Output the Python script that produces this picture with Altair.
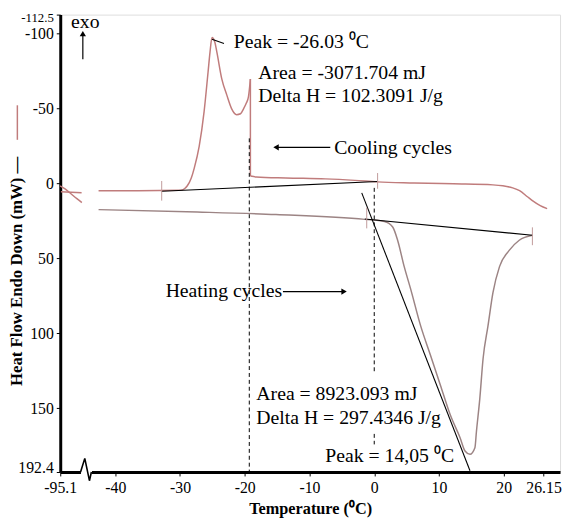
import altair as alt
import pandas as pd

FONT = "Liberation Serif"
COOL_COLOR = "#c07c7c"
HEAT_COLOR = "#9c8484"

# ---------------- data ----------------
# cooling curve, rising part (after the axis break)
cool1_x = [-42.58, -36.49, -29.94, -29.31, -28.87, -28.26, -27.80, -27.04, -26.28, -25.67,
           -25.37, -25.06, -24.61, -24.30, -23.54, -22.78, -22.02, -21.26, -20.65, -20.19,
           -19.74, -19.43, -19.13]
cool1_y = [4.9, 4.9, 4.6, 3.6, 1.6, -3.6, -10.2, -24.7, -47.8, -74.1,
           -87.3, -97.2, -93.9, -87.3, -69.5, -59.0, -49.7, -45.8, -46.4, -49.7,
           -53.7, -57.6, -69.5]
# cooling curve after the sudden drop
cool2_x = [-19.13, -18.21, -13.64, -7.55, -2.98, 0.52, 6.15, 12.24, 18.33, 19.86,
           21.38, 22.45, 23.66, 24.43, 25.64, 26.71]
cool2_y = [-4.9, -4.3, -3.6, -3.0, -2.0, -1.0, -0.3, 0.3, 1.0, 1.6,
           3.0, 4.9, 8.9, 11.5, 14.8, 16.8]
# vertical drop at the end of the exotherm
drop_x = [-19.13]
drop_y1 = [-69.5]
drop_y2 = [-4.9]
# short pieces left of the axis break
left_a_x = [-48.4, -45.2]
left_a_y = [5.6, 6.3]
left_b_x = [-48.52, -47.76, -46.85, -45.93, -45.17]
left_b_y = [1.6, 3.6, 6.9, 10.2, 12.8]
# heating curve
heat_x = [-42.58, -27.35, -15.17, -1.46, 1.58, 2.85, 3.61, 4.63, 5.65, 7.17, 8.70,
          10.22, 11.74, 13.26, 14.02, 14.79, 15.55, 15.79, 16.31, 16.81, 17.57, 18.33,
          19.35, 20.88, 22.40, 24.43]
heat_y = [17.5, 19.1, 20.8, 24.0, 25.4, 29.1, 37.9, 55.5, 70.8, 95.0, 114.7,
          134.5, 154.3, 169.6, 178.4, 180.6, 176.2, 165.2, 143.3, 116.9, 95.0, 73.0,
          55.5, 44.5, 37.9, 34.6]
# black construction lines (baselines, onset tangent, peak pointer)
cool_base_x = [-32.83, 0.52]
cool_base_y = [5.3, -1.3]
heat_base_x = [-1.46, 24.43]
heat_base_y = [23.7, 34.6]
tangent_x = [-1.93, 14.79]
tangent_y = [6.3, 191.6]
pointer_x = [-25.06, -23.21]
pointer_y = [-96.0, -93.2]
# small vertical integration markers
marker_x = [-32.83, 0.52, -1.16, 24.43]
marker_y1 = [-1.6, -6.9, 16.1, 29.3]
marker_y2 = [11.5, 3.6, 30.0, 41.2]
# dashed guide lines
dash_x = [-19.3, 0, 0]
dash_y1 = [-30, 3, 167]
dash_y2 = [192.4, 125.5, 174]
# annotation texts
ann_text = ["exo", "Peak = -26.03 \u2070C", "Area = -3071.704 mJ", "Delta H = 102.3091 J/g",
            "Cooling cycles", "Heating cycles", "Area = 8923.093 mJ",
            "Delta H = 297.4346 J/g", "Peak = 14,05 \u2070C"]
ann_x = [-46.83, -21.71, -17.91, -17.91, -6.18, -32.22, -18.21, -18.21, -7.55]
ann_y = [-107.7, -94.5, -73.5, -58.3, -23.4, 72.1, 140.6, 156.5, 181.5]
# arrows (shaft start, shaft end, head)
arrow_x1 = [-6.79, -14.1, -45.01]
arrow_x2 = [-14.86, -4.96, -45.01]
arrow_y1 = [-24.0, 72.1, -82.7]
arrow_y2 = [-24.0, 72.1, -98.5]
head_x = [-15.17, -4.66, -45.01]
head_y = [-24.0, 72.1, -99.8]
head_shape = ["triangle-left", "triangle-right", "triangle-up"]
# axis break zigzag
break_x = [-45.36, -44.71, -43.99, -43.69]
break_y = [192.4, 183.3, 198.2, 192.4]
break_gap_x = [-45.3, -43.6]

# axis ticks
x_tick_values = [-48.5, -40, -30, -20, -10, 0, 10, 20, 26.15]
x_tick_labels = ["-95.1", "-40", "-30", "-20", "-10", "0", "10", "20", "26.15"]
y_tick_values = [-112.5, -100, -50, 0, 50, 100, 150, 192.4]
y_tick_labels = ["-112.5", "-100", "-50", "0", "50", "100", "150", "192.4"]
x_domain = [-48.5, 28.7]
y_domain = [-112.5, 192.4]

# ---------------- tables ----------------
def seg(xs, ys, name):
    return pd.DataFrame({"x": xs, "y": ys, "s": name, "o": list(range(len(xs)))})

cool_df = pd.concat([seg(cool1_x, cool1_y, "c1"), seg(cool2_x, cool2_y, "c2"),
                     seg(left_b_x, left_b_y, "lb"), seg(left_a_x, left_a_y, "la")])
heat_df = seg(heat_x, heat_y, "h")
black_df = pd.concat([seg(cool_base_x, cool_base_y, "cb"), seg(heat_base_x, heat_base_y, "hb"),
                      seg(tangent_x, tangent_y, "t"), seg(pointer_x, pointer_y, "p")])
marker_df = pd.DataFrame({"x": marker_x, "y": marker_y1, "y2": marker_y2})
drop_df = pd.DataFrame({"x": drop_x, "y": drop_y1, "y2": drop_y2})
dash_df = pd.DataFrame({"x": dash_x, "y": dash_y1, "y2": dash_y2})
ann_df = pd.DataFrame({"t": ann_text, "x": ann_x, "y": ann_y})
arrow_df = pd.DataFrame({"x": arrow_x1, "x2": arrow_x2, "y": arrow_y1, "y2": arrow_y2})
head_df = pd.DataFrame({"x": head_x, "y": head_y, "shape": head_shape})
break_df = seg(break_x, break_y, "b")
gap_df = pd.DataFrame({"x": [break_gap_x[0]], "x2": [break_gap_x[1]], "y": [y_domain[1]]})

label_expr_x = " : ".join(
    [f"datum.value == {v} ? '{l}'" for v, l in zip(x_tick_values, x_tick_labels)]) + " : ''"
label_expr_y = " : ".join(
    [f"datum.value == {v} ? '{l}'" for v, l in zip(y_tick_values, y_tick_labels)]) + " : ''"

xs = alt.Scale(domain=x_domain, nice=False, zero=False)
ys = alt.Scale(domain=y_domain, nice=False, zero=False, reverse=True)

x_axis = alt.Axis(values=x_tick_values, labelExpr=label_expr_x, title="Temperature (\u2070C)",
                  grid=False, tickSize=4, labelPadding=4, titlePadding=5, labelOverlap=False,
                  labelFlush=False,
                  labelFontSize=16, titleFontSize=16.5, domainWidth=3, tickColor="black",
                  domainColor="black", labelColor="black", titleColor="black",
                  labelFont=FONT, titleFont=FONT, titleFontWeight="bold")
y_axis = alt.Axis(values=y_tick_values, labelExpr=label_expr_y,
                  title="Heat Flow Endo Down (mW) \u2014", grid=False, tickSize=4,
                  labelPadding=3, labelFlush=True, labelFlushOffset=3, labelOverlap=False,
                  labelFontSize={"condition": {"test": f"datum.value == {y_domain[0]}",
                                               "value": 13}, "value": 16},
                  titleFontSize=17,
                  domainWidth=3, tickColor="black", domainColor="black", labelColor="black",
                  titleColor="black", labelFont=FONT, titleFont=FONT, titleFontWeight="bold",
                  titleX=-35, titleY=260)

base_x = alt.X("x:Q", scale=xs, axis=x_axis)
base_y = alt.Y("y:Q", scale=ys, axis=y_axis)

cool_layer = alt.Chart(cool_df).mark_line(strokeWidth=1.5, interpolate="monotone").encode(
    x=base_x, y=base_y, detail="s:N", order="o:Q", color=alt.value(COOL_COLOR))
drop_layer = alt.Chart(drop_df).mark_rule(strokeWidth=1.5).encode(
    x="x:Q", y="y:Q", y2="y2:Q", color=alt.value(COOL_COLOR))
heat_layer = alt.Chart(heat_df).mark_line(strokeWidth=1.5, interpolate="monotone").encode(
    x="x:Q", y="y:Q", detail="s:N", order="o:Q", color=alt.value(HEAT_COLOR))
black_layer = alt.Chart(black_df).mark_line(strokeWidth=1.1).encode(
    x="x:Q", y="y:Q", detail="s:N", order="o:Q", color=alt.value("black"))
marker_layer = alt.Chart(marker_df).mark_rule(strokeWidth=1).encode(
    x="x:Q", y="y:Q", y2="y2:Q", color=alt.value("#c09a9a"))
dash_layer = alt.Chart(dash_df).mark_rule(strokeWidth=1, strokeDash=[4, 3]).encode(
    x="x:Q", y="y:Q", y2="y2:Q", color=alt.value("black"))
ann_layer = alt.Chart(ann_df).mark_text(align="left", baseline="middle", font=FONT,
                                        fontSize=20, color="black").encode(
    x="x:Q", y="y:Q", text="t:N")
arrow_layer = alt.Chart(arrow_df).mark_rule(strokeWidth=1.2).encode(
    x="x:Q", x2="x2:Q", y="y:Q", y2="y2:Q", color=alt.value("black"))
head_layer = alt.Chart(head_df).mark_point(filled=True, size=40, opacity=1).encode(
    x="x:Q", y="y:Q",
    shape=alt.Shape("shape:N", scale=alt.Scale(domain=head_shape, range=head_shape), legend=None),
    color=alt.value("black"))
gap_layer = alt.Chart(gap_df).mark_rule(strokeWidth=5).encode(
    x="x:Q", x2="x2:Q", y="y:Q", color=alt.value("white"))
break_layer = alt.Chart(break_df).mark_line(strokeWidth=1.6).encode(
    x="x:Q", y="y:Q", order="o:Q", color=alt.value("black"))
legend_glyph = alt.Chart(pd.DataFrame({"k": [0]})).mark_rule(strokeWidth=1.5).encode(
    x=alt.value(-43.5), y=alt.value(92), y2=alt.value(127), color=alt.value(COOL_COLOR))

chart = alt.layer(
    cool_layer, drop_layer, heat_layer, black_layer, marker_layer, dash_layer,
    ann_layer, arrow_layer, head_layer, gap_layer, break_layer, legend_glyph
).properties(
    width=507, height=464,
    autosize=alt.AutoSizeParams(type="none"),
    padding={"left": 53, "top": 3, "right": 3, "bottom": 46},
).configure_view(
    stroke="black", strokeWidth=2.5
).configure(background="white")

chart.save("out.html", embed_options={"renderer": "svg", "actions": False})
